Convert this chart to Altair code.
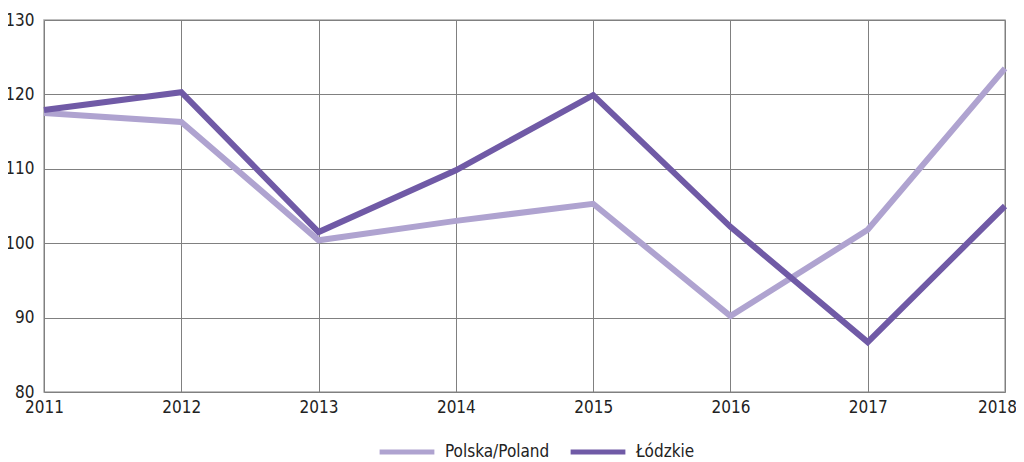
import altair as alt
import pandas as pd

years = [2011, 2012, 2013, 2014, 2015, 2016, 2017, 2018]
polska = [117.5, 116.3, 100.4, 103.0, 105.3, 90.2, 101.8, 123.5]
lodzkie = [117.9, 120.3, 101.5, 109.8, 119.9, 102.2, 86.7, 105.0]
series_names = ["Polska/Poland", "Łódzkie"]
colors = ["#afa3d0", "#705aa6"]

rows = []
for y, p, l in zip(years, polska, lodzkie):
    rows.append({"year": y, "value": p, "series": series_names[0]})
    rows.append({"year": y, "value": l, "series": series_names[1]})
df = pd.DataFrame(rows)

FONT = "Liberation Sans Narrow, DejaVu Sans Condensed, Roboto Condensed, sans-serif"

chart = alt.Chart(df).mark_line(strokeWidth=6, strokeJoin="miter").encode(
    x=alt.X("year:Q", scale=alt.Scale(domain=[2011, 2018], nice=False),
            axis=alt.Axis(values=years, format="d", title=None, grid=True,
                          gridColor="#808080", gridWidth=1, domain=False, ticks=False,
                          labelFontSize=17, labelColor="#222222", labelPadding=7,
                          labelFlush=False, labelFont=FONT,
                          labelOffset={"condition": {"test": "datum.value == 2018", "value": -8},
                                       "value": 0})),
    y=alt.Y("value:Q", scale=alt.Scale(domain=[80, 130], nice=False, zero=False),
            axis=alt.Axis(values=[80, 90, 100, 110, 120, 130], title=None, grid=True,
                          gridColor="#808080", gridWidth=1, domain=False, ticks=False,
                          labelFontSize=17, labelColor="#222222", labelPadding=10,
                          labelFont=FONT)),
    color=alt.Color("series:N", scale=alt.Scale(domain=series_names, range=colors),
                    legend=alt.Legend(orient="none", direction="horizontal", title=None,
                                      legendX=333, legendY=402,
                                      symbolType="stroke", symbolSize=3000,
                                      symbolStrokeWidth=5, labelFontSize=17,
                                      labelOffset=8,
                                      labelFont=FONT, labelColor="#222222",
                                      columnPadding=10)),
).properties(
    width=961, height=372,
    padding={"left": 36, "top": 12, "right": 11, "bottom": 68},
    autosize=alt.AutoSizeParams(type="none"),
).configure_view(stroke="#aaaaaa", strokeWidth=1.5)

chart.save("out.html", embed_options={"renderer": "svg", "actions": False})
